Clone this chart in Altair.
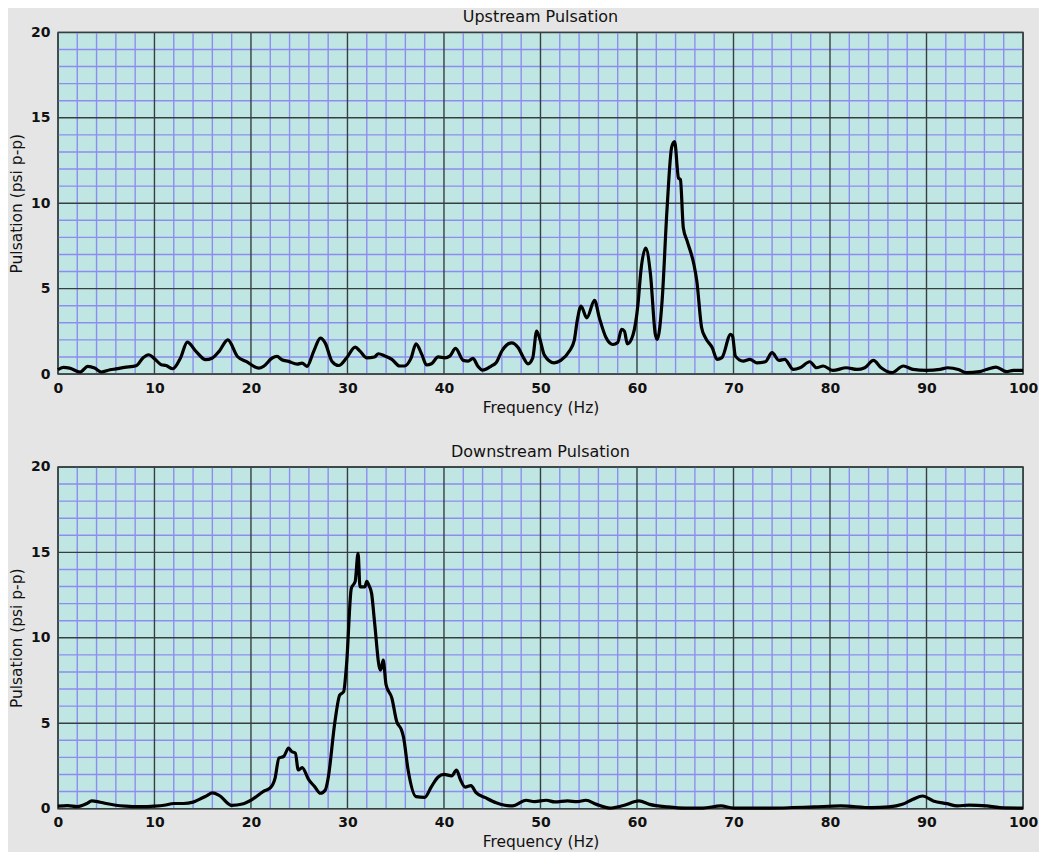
import altair as alt
import pandas as pd

# ---- Upstream pulsation spectrum (Hz, psi p-p) ----
up_freq = [0, 0.55, 1.2, 2.3, 3.1, 3.8, 4.5, 5.4, 6.0, 6.9, 8.1, 8.8, 9.4, 10.0, 10.7, 11.2, 11.9,
           12.7, 13.4, 14.3, 15.3, 16.0, 16.7, 17.6, 18.6, 19.5, 20.8, 21.3, 22.2, 22.7, 23.2, 23.9,
           24.8, 25.3, 25.8, 26.5, 27.2, 27.7, 28.4, 29.1, 29.9, 30.8, 31.3, 32.0, 32.8, 33.2, 33.9,
           34.6, 35.4, 35.9, 36.6, 37.1, 37.7, 38.2, 38.7, 39.4, 40.1, 40.6, 41.2, 42.0, 42.5, 43.0,
           43.5, 44.0, 44.9, 45.4, 46.0, 47.0, 47.7, 48.2, 48.7, 49.2, 49.6, 49.9, 50.4, 51.4, 52.1,
           53.0, 53.5, 53.8, 54.2, 54.8, 55.6, 56.1, 56.8, 57.5, 58.0, 58.4, 58.7, 59.0, 59.6, 60.1,
           60.4, 60.9, 61.4, 61.9, 62.1, 62.6, 63.1, 63.6, 63.9, 64.3, 64.5, 64.8, 65.2, 65.9, 66.2,
           66.7, 67.1, 67.8, 68.3, 68.8, 69.7, 69.9, 70.2, 71.0, 71.7, 72.4, 73.3, 74.0, 74.7, 75.3,
           76.2, 76.9, 77.9, 78.6, 79.3, 80.3, 81.7, 82.8, 83.6, 84.5, 85.3, 86.4, 87.6, 88.6, 90.0,
           91.4, 92.2, 93.3, 94.1, 95.5, 96.2, 97.2, 98.3, 99.0, 100]
up_val = [0.25, 0.39, 0.35, 0.12, 0.45, 0.35, 0.12, 0.25, 0.3, 0.39, 0.49, 0.94, 1.13, 0.9, 0.55, 0.5, 0.31,
          0.94, 1.87, 1.33, 0.84, 0.94, 1.33, 2.0, 1.03, 0.74, 0.35, 0.45, 0.94, 1.03, 0.84, 0.74,
          0.58, 0.64, 0.45, 1.33, 2.1, 1.81, 0.74, 0.5, 0.94, 1.58, 1.34, 0.95, 1.0, 1.19, 1.05,
          0.86, 0.47, 0.47, 0.95, 1.77, 1.15, 0.53, 0.6, 1.0, 0.95, 1.05, 1.5, 0.8, 0.76, 0.92,
          0.47, 0.23, 0.47, 0.66, 1.35, 1.83, 1.54, 1.0, 0.6, 0.95, 2.51, 2.12, 1.11, 0.66, 0.8,
          1.35, 1.97, 3.1, 3.98, 3.29, 4.31, 3.29, 2.12, 1.73, 1.85, 2.61, 2.51, 1.77, 2.32, 4.07,
          6.02, 7.37, 5.83, 2.32, 2.03, 4.27, 9.53, 13.3, 13.6, 11.48, 11.38, 8.56, 7.78, 6.41, 5.44,
          2.71, 2.12, 1.54, 0.86, 0.96, 2.32, 2.22, 1.05, 0.76, 0.86, 0.66, 0.72, 1.25, 0.8, 0.86,
          0.27, 0.37, 0.72, 0.37, 0.47, 0.21, 0.37, 0.27, 0.37, 0.8, 0.37, 0.08, 0.47, 0.27, 0.21,
          0.27, 0.37, 0.27, 0.08, 0.14, 0.27, 0.41, 0.14, 0.21, 0.21]

# ---- Downstream pulsation spectrum ----
down_freq = [0, 1, 2, 3, 3.5, 4.2, 5, 6, 7, 8.5, 10, 11, 12, 13, 14, 14.6, 15.4, 16.0, 16.7, 18.0,
             19.1, 20.1, 21.3, 22.0, 22.5, 22.9, 23.4, 23.9, 24.2, 24.6, 24.9, 25.3, 26.0, 26.6,
             27.2, 27.7, 28.0, 28.7, 29.2, 29.6, 29.9, 30.4, 30.8, 31.1, 31.3, 31.8, 32.0, 32.2,
             32.5, 32.8, 33.4, 33.5, 33.7, 34.0, 34.6, 35.1, 35.6, 35.8, 36.3, 37.1, 38.0, 38.7,
             39.4, 40.0, 40.8, 41.3, 41.7, 42.2, 42.8, 43.3, 44.3, 45.4, 46.3, 47.1, 48.5, 49.4,
             50.6, 51.5, 52.8, 53.8, 54.7, 55.8, 57.2, 58.6, 60.2, 61.3, 63.2, 65.0, 66.8, 68.7,
             70.0, 73.7, 78.3, 81.1, 84.3, 86.1, 87.5, 88.6, 89.6, 90.7, 92.1, 93.2, 94.4, 96.2,
             97.6, 100]
down_val = [0.15, 0.18, 0.12, 0.3, 0.45, 0.4, 0.3, 0.2, 0.15, 0.12, 0.15, 0.2, 0.3, 0.3, 0.38, 0.53,
            0.75, 0.92, 0.78, 0.19, 0.27, 0.53, 1.01, 1.21, 1.79, 2.96, 3.06, 3.55, 3.35, 3.25,
            2.26, 2.4, 1.68, 1.29, 0.9, 1.09, 1.79, 5.09, 6.65, 6.84, 8.4, 12.9, 13.3, 14.95,
            12.98, 12.98, 13.3, 13.1, 12.6, 10.95, 8.1, 8.2, 8.7, 7.25, 6.47, 5.1, 4.6, 4.2, 2.2,
            0.7, 0.66, 1.29, 1.85, 2.0, 1.92, 2.26, 1.7, 1.26, 1.35, 0.95, 0.64, 0.34, 0.2, 0.16,
            0.49, 0.41, 0.49, 0.39, 0.45, 0.41, 0.49, 0.25, 0.03, 0.18, 0.45, 0.25, 0.1, 0.03,
            0.03, 0.16, 0.03, 0.03, 0.1, 0.16, 0.06, 0.1, 0.25, 0.55, 0.74, 0.45, 0.29, 0.16,
            0.21, 0.16, 0.06, 0.03]

# grid positions
x_minor = [v for v in range(0, 101, 2) if v % 10 != 0]
x_major = list(range(0, 101, 10))
y_minor = [v for v in range(0, 21) if v % 5 != 0]
y_major = list(range(0, 21, 5))

W, H = 966, 342
MAJOR = "#353f3f"
MINOR = "#8d8def"
FONT = "DejaVu Sans"

xscale = alt.Scale(domain=[0, 100], nice=False, zero=False)
yscale = alt.Scale(domain=[0, 20], nice=False, zero=False)


def panel(freq, val, title):
    df = pd.DataFrame({"f": freq, "v": val})
    xv_min = pd.DataFrame({"g": x_minor})
    xv_maj = pd.DataFrame({"g": x_major})
    yh_min = pd.DataFrame({"g": y_minor})
    yh_maj = pd.DataFrame({"g": y_major})

    xaxis = alt.Axis(values=x_major, grid=False, ticks=False, domain=False, labelFlush=False,
                     labelFontSize=14, labelFont=FONT, labelFontWeight="bold", labelColor="#111",
                     labelPadding=7, title="Frequency (Hz)", titleFont=FONT, titleFontSize=15.5,
                     titleFontWeight="normal", titleColor="#111", titlePadding=5)
    yaxis = alt.Axis(values=y_major, grid=False, ticks=False, domain=False, labelFlush=False,
                     labelFontSize=14, labelFont=FONT, labelFontWeight="bold", labelColor="#111",
                     labelPadding=8, title="Pulsation (psi p-p)", titleFont=FONT, titleFontSize=15.5,
                     titleFontWeight="normal", titleColor="#111", titlePadding=6)

    vmin = alt.Chart(xv_min).mark_rule(color=MINOR, strokeWidth=1.4).encode(
        x=alt.X("g:Q", scale=xscale, axis=xaxis))
    hmin = alt.Chart(yh_min).mark_rule(color=MINOR, strokeWidth=1.4).encode(
        y=alt.Y("g:Q", scale=yscale, axis=yaxis))
    vmaj = alt.Chart(xv_maj).mark_rule(color=MAJOR, strokeWidth=1.4).encode(
        x=alt.X("g:Q", scale=xscale))
    hmaj = alt.Chart(yh_maj).mark_rule(color=MAJOR, strokeWidth=1.4).encode(
        y=alt.Y("g:Q", scale=yscale))
    line = alt.Chart(df).mark_line(color="black", strokeWidth=3.2, strokeJoin="round",
                                   interpolate="monotone").encode(
        x=alt.X("f:Q", scale=xscale, axis=xaxis),
        y=alt.Y("v:Q", scale=yscale, axis=yaxis))

    return alt.layer(vmin, hmin, vmaj, hmaj, line).properties(
        width=W, height=H,
        title=alt.TitleParams(title, font=FONT, fontSize=16, fontWeight="normal",
                              color="#111", anchor="middle", offset=0))


chart = alt.vconcat(
    panel(up_freq, up_val, "Upstream Pulsation"),
    panel(down_freq, down_val, "Downstream Pulsation"),
    spacing=26,
).properties(
    background="#e5e5e5",
    padding={"left": 0, "top": 0, "right": 0, "bottom": 0},
).configure_view(
    fill="#c0e6e4", stroke=MAJOR, strokeWidth=1.4
)

chart.save("out.html", embed_options={"renderer": "svg", "actions": False})
